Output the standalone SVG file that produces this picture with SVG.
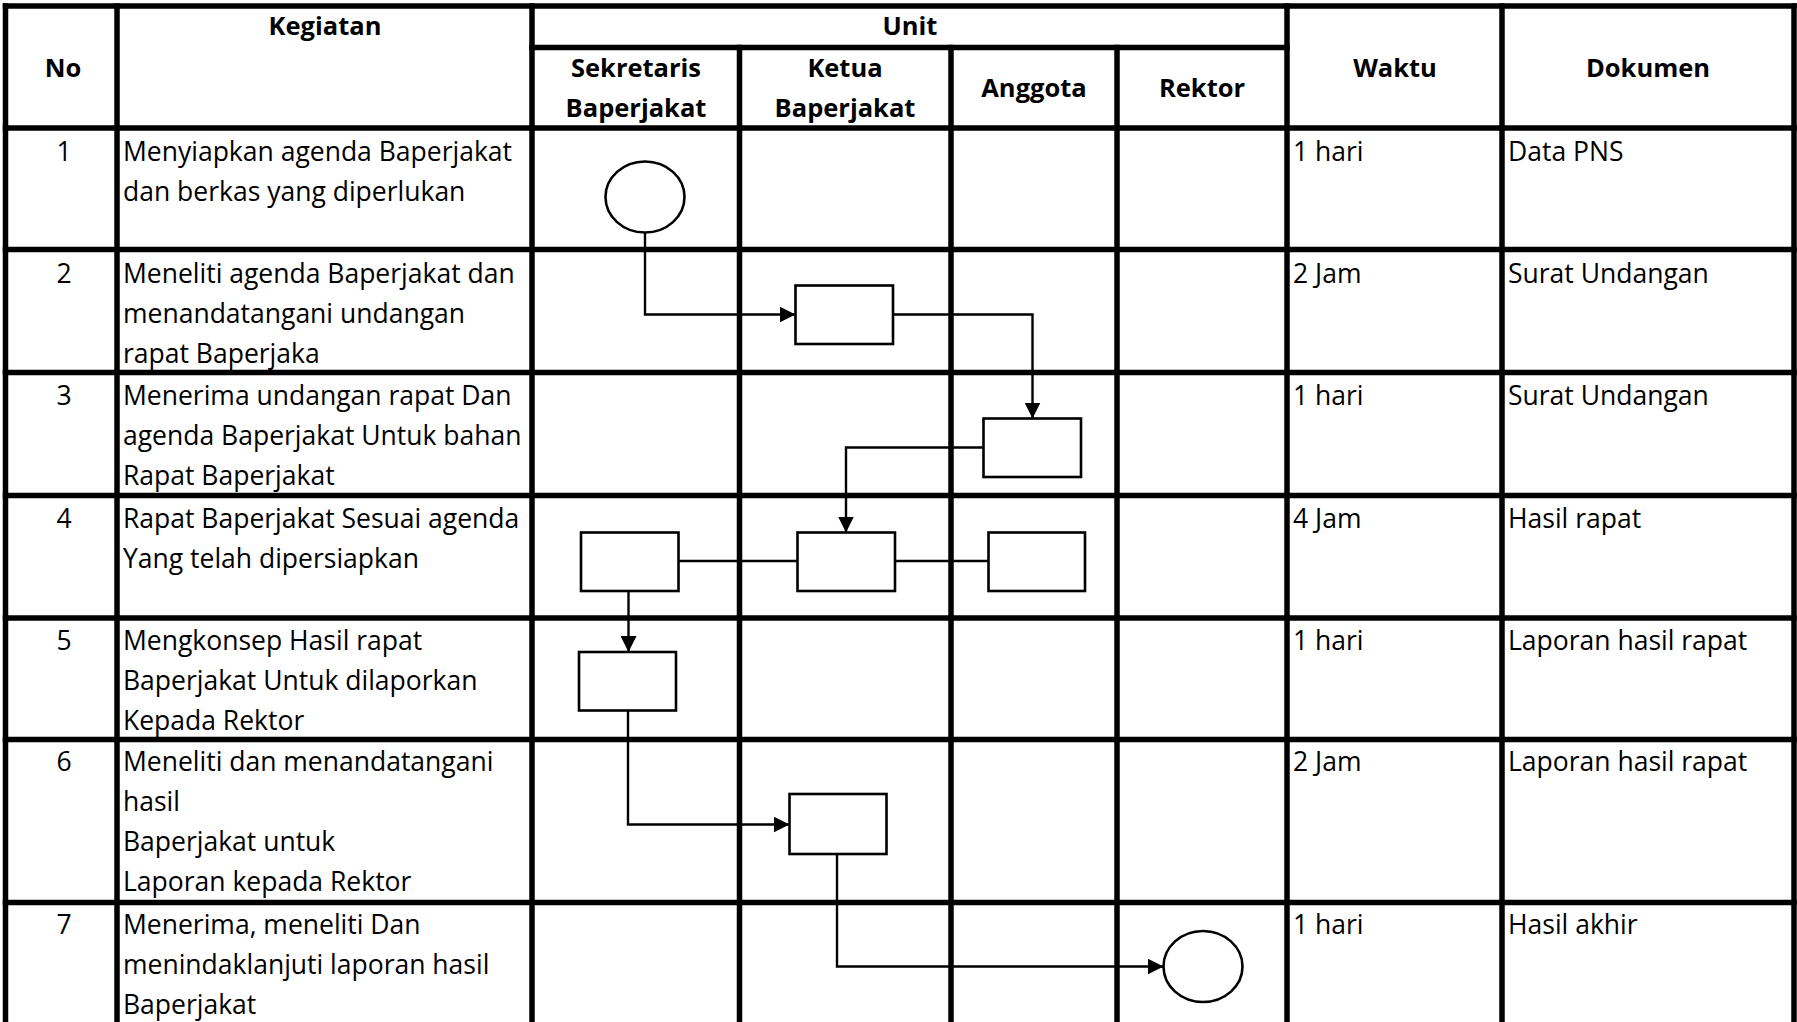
<svg xmlns="http://www.w3.org/2000/svg" width="1797" height="1022" viewBox="0 0 1797 1022">
<style>
.grid{stroke:#000;stroke-width:5.5;fill:none;stroke-linecap:square}
.shape{stroke:#000;stroke-width:2.6;fill:#fff}
.conn{stroke:#000;stroke-width:2.4;fill:none}
.t{font-family:"Open Sans","Liberation Sans",sans-serif;font-size:26.5px;fill:#000}
.h{font-family:"Open Sans","Liberation Sans",sans-serif;font-size:25.5px;font-weight:bold;fill:#000;text-anchor:middle}
.c{text-anchor:middle}
</style>
<defs>
<marker id="arrow" markerUnits="userSpaceOnUse" markerWidth="18" markerHeight="16" refX="16" refY="8" orient="auto">
<path d="M0,0 L16,8 L0,16 Z" fill="#000"/>
</marker>
</defs>
<rect x="0" y="0" width="1797" height="1022" fill="#fff"/>
<g id="grid">
<line class="grid" x1="5.5" y1="6" x2="1794" y2="6"/>
<line class="grid" x1="532" y1="47.5" x2="1287" y2="47.5"/>
<line class="grid" x1="5.5" y1="128" x2="1794" y2="128"/>
<line class="grid" x1="5.5" y1="249.5" x2="1794" y2="249.5"/>
<line class="grid" x1="5.5" y1="372.5" x2="1794" y2="372.5"/>
<line class="grid" x1="5.5" y1="495.5" x2="1794" y2="495.5"/>
<line class="grid" x1="5.5" y1="618" x2="1794" y2="618"/>
<line class="grid" x1="5.5" y1="739.5" x2="1794" y2="739.5"/>
<line class="grid" x1="5.5" y1="902.5" x2="1794" y2="902.5"/>
<line class="grid" x1="5.5" y1="6" x2="5.5" y2="1025"/>
<line class="grid" x1="117" y1="6" x2="117" y2="1025"/>
<line class="grid" x1="532" y1="6" x2="532" y2="1025"/>
<line class="grid" x1="739.5" y1="47.5" x2="739.5" y2="1025"/>
<line class="grid" x1="951" y1="47.5" x2="951" y2="1025"/>
<line class="grid" x1="1117" y1="47.5" x2="1117" y2="1025"/>
<line class="grid" x1="1287" y1="6" x2="1287" y2="1025"/>
<line class="grid" x1="1502" y1="6" x2="1502" y2="1025"/>
<line class="grid" x1="1794" y1="6" x2="1794" y2="1025"/>
</g>
<g id="header">
<text class="h" x="63" y="77">No</text>
<text class="h" x="325" y="35">Kegiatan</text>
<text class="h" x="910" y="35">Unit</text>
<text class="h" x="636" y="77">Sekretaris</text>
<text class="h" x="636" y="117">Baperjakat</text>
<text class="h" x="845" y="77">Ketua</text>
<text class="h" x="845" y="117">Baperjakat</text>
<text class="h" x="1034" y="97">Anggota</text>
<text class="h" x="1202" y="97">Rektor</text>
<text class="h" x="1395" y="77">Waktu</text>
<text class="h" x="1648" y="77">Dokumen</text>
</g>
<g id="row-texts">
<text class="t c" x="64" y="161">1</text>
<text class="t" x="123" y="161">Menyiapkan agenda Baperjakat</text>
<text class="t" x="123" y="201">dan berkas yang diperlukan</text>
<text class="t" x="1293" y="161">1 hari</text>
<text class="t" x="1508" y="161">Data PNS</text>

<text class="t c" x="64" y="283">2</text>
<text class="t" x="123" y="283">Meneliti agenda Baperjakat dan</text>
<text class="t" x="123" y="323">menandatangani undangan</text>
<text class="t" x="123" y="363">rapat Baperjaka</text>
<text class="t" x="1293" y="283">2 Jam</text>
<text class="t" x="1508" y="283">Surat Undangan</text>

<text class="t c" x="64" y="405">3</text>
<text class="t" x="123" y="405">Menerima undangan rapat Dan</text>
<text class="t" x="123" y="445">agenda Baperjakat Untuk bahan</text>
<text class="t" x="123" y="485">Rapat Baperjakat</text>
<text class="t" x="1293" y="405">1 hari</text>
<text class="t" x="1508" y="405">Surat Undangan</text>

<text class="t c" x="64" y="528">4</text>
<text class="t" x="123" y="528">Rapat Baperjakat Sesuai agenda</text>
<text class="t" x="123" y="568">Yang telah dipersiapkan</text>
<text class="t" x="1293" y="528">4 Jam</text>
<text class="t" x="1508" y="528">Hasil rapat</text>

<text class="t c" x="64" y="650">5</text>
<text class="t" x="123" y="650">Mengkonsep Hasil rapat</text>
<text class="t" x="123" y="690">Baperjakat Untuk dilaporkan</text>
<text class="t" x="123" y="730">Kepada Rektor</text>
<text class="t" x="1293" y="650">1 hari</text>
<text class="t" x="1508" y="650">Laporan hasil rapat</text>

<text class="t c" x="64" y="771">6</text>
<text class="t" x="123" y="771">Meneliti dan menandatangani</text>
<text class="t" x="123" y="811">hasil</text>
<text class="t" x="123" y="851">Baperjakat untuk</text>
<text class="t" x="123" y="891">Laporan kepada Rektor</text>
<text class="t" x="1293" y="771">2 Jam</text>
<text class="t" x="1508" y="771">Laporan hasil rapat</text>

<text class="t c" x="64" y="934">7</text>
<text class="t" x="123" y="934">Menerima, meneliti Dan</text>
<text class="t" x="123" y="974">menindaklanjuti laporan hasil</text>
<text class="t" x="123" y="1014">Baperjakat</text>
<text class="t" x="1293" y="934">1 hari</text>
<text class="t" x="1508" y="934">Hasil akhir</text>
</g>
<g id="connectors">
<polyline class="conn" points="645,232.5 645,314.5 795.5,314.5" marker-end="url(#arrow)"/>
<polyline class="conn" points="893,314.5 1032.5,314.5 1032.5,418.5" marker-end="url(#arrow)"/>
<polyline class="conn" points="983.5,447.5 846,447.5 846,532.5" marker-end="url(#arrow)"/>
<line class="conn" x1="678.5" y1="561" x2="797.5" y2="561"/>
<line class="conn" x1="895" y1="561" x2="988.5" y2="561"/>
<line class="conn" x1="628.5" y1="591" x2="628.5" y2="652" marker-end="url(#arrow)"/>
<polyline class="conn" points="628,710.5 628,824.5 789.5,824.5" marker-end="url(#arrow)"/>
<polyline class="conn" points="837,854 837,966.5 1163.5,966.5" marker-end="url(#arrow)"/>
</g>
<g id="n1"><ellipse class="shape" cx="645" cy="197" rx="39.5" ry="35.5"/></g>
<g id="n2"><rect class="shape" x="795.5" y="285.5" width="97.5" height="58.5"/></g>
<g id="n3"><rect class="shape" x="983.5" y="418.5" width="97.5" height="58.5"/></g>
<g id="n4a"><rect class="shape" x="581" y="532.5" width="97.5" height="58.5"/></g>
<g id="n4b"><rect class="shape" x="797.5" y="532.5" width="97.5" height="58.5"/></g>
<g id="n4c"><rect class="shape" x="988.5" y="532.5" width="96.5" height="58.5"/></g>
<g id="n5"><rect class="shape" x="579" y="652" width="97" height="58.5"/></g>
<g id="n6"><rect class="shape" x="789.5" y="794" width="97" height="60"/></g>
<g id="n7"><ellipse class="shape" cx="1203" cy="966.5" rx="39.5" ry="35.5"/></g>
</svg>
